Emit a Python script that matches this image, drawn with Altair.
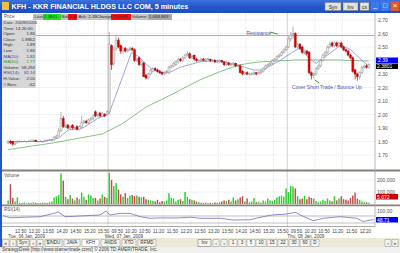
import altair as alt
import pandas as pd

# ------------------------------------------------------------------ data
# 5-minute bars: Tue 06 Jan 12:20-15:55 | Wed 07 Jan 09:30-15:55 | Thu 08 Jan 09:30-12:25
open_d1 = [1.79,1.80,1.80,1.78,1.79,1.80,1.80,1.80,1.80,1.80,1.80,1.81,1.81,1.80,1.80,
           1.80,1.80,1.81,1.81,1.81,1.81,1.83,1.84,1.88,1.97,1.91,1.92,1.90,1.92,1.90,
           1.91,1.89,1.91,1.94,1.95,1.94,1.96,1.97,2.02,1.99,2.01,1.99,2.00,2.00]
high_d1 = [1.81,1.81,1.80,1.80,1.81,1.81,1.80,1.81,1.80,1.81,1.81,1.81,1.81,1.80,1.81,
           1.80,1.81,1.81,1.82,1.81,1.84,1.85,1.90,2.02,1.99,1.93,1.93,1.92,1.93,1.91,
           1.92,1.92,1.99,1.96,1.96,1.97,1.98,2.00,2.03,2.01,2.02,2.02,2.01,2.03]
low_d1 = [1.78,1.78,1.77,1.77,1.79,1.79,1.79,1.80,1.79,1.80,1.80,1.80,1.80,1.79,1.80,
          1.79,1.80,1.80,1.81,1.80,1.81,1.82,1.84,1.87,1.90,1.90,1.89,1.89,1.89,1.89,
          1.88,1.88,1.90,1.93,1.93,1.93,1.95,1.96,1.98,1.98,1.98,1.98,1.98,1.99]
close_d1 = [1.80,1.79,1.78,1.79,1.80,1.80,1.80,1.80,1.80,1.80,1.81,1.81,1.80,1.80,1.80,
            1.80,1.81,1.81,1.81,1.81,1.83,1.84,1.88,1.97,1.91,1.92,1.90,1.91,1.90,1.90,
            1.89,1.91,1.94,1.95,1.94,1.96,1.97,1.99,1.99,2.00,1.99,2.01,1.99,2.02]

open_d2 = [2.02,2.51,2.38,2.49,2.55,2.51,2.47,2.49,2.47,2.48,
           2.49,2.48,2.40,2.42,2.37,2.38,2.29,2.27,2.30,2.32,
           2.34,2.33,2.32,2.31,2.30,2.31,2.31,2.35,2.36,2.37,
           2.39,2.41,2.40,2.42,2.44,2.45,2.42,2.44,2.41,2.40,
           2.40,2.41,2.40,2.41,2.41,2.40,2.40,2.39,2.39,2.40,
           2.39,2.37,2.38,2.37,2.37,2.38,2.36,2.36,2.32,2.30,
           2.31,2.30,2.30,2.30,2.31,2.30,2.31,2.32,2.34,2.36,
           2.37,2.38,2.40,2.41,2.43,2.44,2.46,2.48]
high_d2 = [2.61,2.52,2.50,2.59,2.57,2.52,2.50,2.50,2.49,2.50,
           2.50,2.49,2.42,2.43,2.40,2.39,2.30,2.31,2.34,2.35,
           2.35,2.34,2.33,2.32,2.32,2.33,2.36,2.37,2.39,2.40,
           2.42,2.42,2.43,2.45,2.47,2.46,2.44,2.44,2.42,2.41,
           2.42,2.42,2.42,2.42,2.41,2.41,2.41,2.40,2.41,2.40,
           2.39,2.39,2.39,2.38,2.39,2.38,2.37,2.37,2.33,2.32,
           2.32,2.31,2.31,2.32,2.31,2.32,2.33,2.35,2.37,2.38,
           2.39,2.41,2.42,2.44,2.45,2.47,2.49,2.51]
low_d2 = [2.00,2.33,2.36,2.47,2.49,2.45,2.45,2.46,2.46,2.47,
          2.47,2.39,2.39,2.36,2.36,2.28,2.26,2.26,2.29,2.31,
          2.32,2.31,2.30,2.29,2.29,2.30,2.30,2.34,2.35,2.36,
          2.38,2.39,2.39,2.41,2.43,2.41,2.41,2.40,2.39,2.39,
          2.39,2.40,2.39,2.40,2.39,2.39,2.38,2.38,2.38,2.38,
          2.36,2.36,2.36,2.36,2.36,2.35,2.35,2.31,2.29,2.29,
          2.29,2.29,2.29,2.29,2.29,2.30,2.30,2.31,2.33,2.35,
          2.36,2.37,2.39,2.40,2.42,2.43,2.45,2.47]
close_d2 = [2.52,2.37,2.48,2.55,2.50,2.47,2.49,2.47,2.48,2.49,
            2.48,2.40,2.41,2.37,2.39,2.28,2.27,2.30,2.33,2.34,
            2.33,2.32,2.31,2.30,2.31,2.32,2.35,2.36,2.38,2.39,
            2.41,2.40,2.42,2.44,2.45,2.42,2.43,2.41,2.40,2.40,
            2.41,2.40,2.41,2.41,2.40,2.40,2.39,2.39,2.40,2.39,
            2.37,2.38,2.37,2.37,2.38,2.36,2.36,2.31,2.30,2.31,
            2.30,2.30,2.30,2.31,2.30,2.31,2.32,2.34,2.36,2.37,
            2.38,2.40,2.41,2.43,2.44,2.46,2.48,2.50]

open_d3 = [2.50,2.56,2.59,2.60,2.50,2.52,2.50,2.46,2.47,2.46,
           2.31,2.29,2.30,2.34,2.36,2.40,2.44,2.46,2.50,2.53,
           2.51,2.53,2.51,2.53,2.50,2.48,2.47,2.44,2.42,2.33,
           2.30,2.28,2.31,2.35,2.36,2.35]
high_d3 = [2.58,2.61,2.65,2.61,2.53,2.53,2.51,2.48,2.48,2.47,
           2.32,2.31,2.35,2.37,2.41,2.45,2.47,2.51,2.54,2.54,
           2.54,2.54,2.54,2.54,2.51,2.49,2.48,2.45,2.43,2.34,
           2.31,2.32,2.36,2.37,2.37,2.38]
low_d3 = [2.49,2.54,2.56,2.49,2.49,2.48,2.45,2.45,2.44,2.30,
          2.26,2.27,2.29,2.33,2.35,2.39,2.43,2.45,2.49,2.50,
          2.50,2.50,2.50,2.49,2.47,2.46,2.43,2.41,2.31,2.26,
          2.25,2.26,2.30,2.34,2.34,2.34]
close_d3 = [2.56,2.59,2.60,2.50,2.52,2.49,2.46,2.47,2.45,2.31,
            2.29,2.30,2.34,2.36,2.40,2.44,2.46,2.50,2.52,2.51,
            2.53,2.51,2.53,2.50,2.48,2.47,2.44,2.42,2.32,2.30,
            2.28,2.31,2.35,2.36,2.35,2.37]

# volume in thousands of shares
vol_d1 = [30,165,50,20,55,10,8,12,6,10,8,15,10,6,8,12,10,8,15,20,55,65,75,255,195,
          60,40,75,45,30,55,40,95,60,35,80,70,50,50,30,45,80,60,50]
vol_d2 = [260,200,150,175,120,80,60,90,50,70,75,65,70,60,55,60,40,35,30,25,
          20,35,15,25,20,30,90,50,45,20,35,40,25,100,60,40,35,30,20,15,
          10,8,12,6,10,8,12,10,15,20,30,25,35,20,55,30,40,55,65,20,
          45,15,20,50,15,20,10,30,20,45,30,25,35,55,65,70,60,130]
vol_d3 = [100,150,145,130,65,40,45,70,40,60,50,45,25,15,20,35,25,45,30,20,
          65,30,45,65,40,35,30,50,70,95,45,35,20,15,15,10]

# moving averages and RSI (vertices, x = bar number)
ma10_bar = [0, 15.6, 22, 26.2, 32.5, 38.9, 43.1, 44, 53.7, 56.7, 62.2, 66.5, 70.7, 74.9,
            83.4, 91.9, 99.1, 106.7, 110.9, 117.3, 123.7, 126.6, 132.1, 134.2, 140.6,
            144.8, 149.1, 155.4, 157]
ma10_val = [1.80, 1.80, 1.826, 1.885, 1.90, 1.97, 2.00, 2.01, 2.46, 2.43, 2.34, 2.31,
            2.315, 2.35, 2.39, 2.40, 2.37, 2.33, 2.33, 2.39, 2.46, 2.49, 2.40, 2.38,
            2.46, 2.515, 2.48, 2.38, 2.36]
ma60_bar = [0, 19.8, 41, 49.5, 60.1, 70.7, 83.4, 91.9, 100.3, 108.8, 125.8, 142.7, 157]
ma60_val = [1.74, 1.79, 1.856, 1.93, 2.056, 2.144, 2.256, 2.315, 2.367, 2.389, 2.404,
            2.404, 2.396]
rsi_bar = [0, 2.9, 15.6, 22, 23.2, 26.2, 32.5, 41, 43.6, 45.3, 49.5, 53.7, 58, 62.2,
           66.4, 73.7, 79.2, 83.4, 91.9, 97.4, 104.6, 110.1, 113.9, 119.4, 123.7, 125.8,
           131.3, 135.5, 142.7, 149.9, 152.5, 155.4, 157]
rsi_val = [72, 60, 66, 87, 94, 66, 70, 76, 98, 76, 85, 85, 66, 57, 59, 59, 63, 57, 57,
           47, 49, 66, 76, 80, 91, 76, 43, 57, 66, 57, 38, 47, 48.7]

resistance = [2.585]
price_ticks = [1.70, 1.80, 1.90, 2.00, 2.10, 2.20, 2.30, 2.40, 2.50, 2.60, 2.70]
price_labels = ["1.70", "1.80", "1.90", "2.00", "2.10", "2.20", "2.30", "2.40", "2.50", "2.60", "2.70"]
vol_ticks = [100, 200]
vol_labels = ["100,000", "200,000"]
rsi_levels = [30, 70]
time_tick_bar = [6, 12, 18, 24, 30, 36, 42, 48, 54, 60, 66, 72, 78, 84, 90, 96, 102,
                 108, 114, 120, 126, 132, 138, 144, 150, 156]
time_labels = ["12:50", "13:20", "13:50", "14:20", "14:50", "15:20", "15:50",
               "09:50", "10:20", "10:50", "11:20", "11:50", "12:20", "12:50", "13:20",
               "13:50", "14:20", "14:50", "15:20", "15:50",
               "09:50", "10:20", "10:50", "11:20", "11:50", "12:20"]
date_bar = [0, 42, 121.5]
date_labels = ["Tue, 06 Jan, 2009", "Wed, 07 Jan, 2009", "Thu, 08 Jan, 2009"]
grid_bar = [14, 26, 38, 44, 56, 68, 80, 92, 104, 116, 122, 134, 146]
day_open_bar = [44, 122]
note_text = ["Resistance", "Cover Short Trade / Bounce Up"]
note_bar = [103.7, 123.6]
note_price = [2.604, 2.204]
arrow_bar = [113.9, 133.4]
arrow_bar2 = [117.3, 135.5]
arrow_price = [2.611, 2.256]
arrow_price2 = [2.596, 2.233]

# ------------------------------------------------------------------ frames
opens = open_d1 + open_d2 + open_d3
highs = high_d1 + high_d2 + high_d3
lows = low_d1 + low_d2 + low_d3
closes = close_d1 + close_d2 + close_d3
vols = vol_d1 + vol_d2 + vol_d3
N = len(closes)
bars = pd.DataFrame({"i": list(range(N)), "open": opens, "high": highs, "low": lows,
                     "close": closes, "vol": vols})

FONT = "Liberation Sans"
XS = alt.Scale(domain=[-0.5, N - 0.5], range=[2, 375], nice=False, zero=False)
PY = alt.Scale(domain=[1.70, 2.70], range=[155, 20], nice=False, zero=False)
VY = alt.Scale(domain=[0, 200], range=[204, 180], nice=False, zero=False)
RY = alt.Scale(domain=[0, 100], range=[228.25, 210.75], nice=False, zero=False)
UP = "datum.close >= datum.open"

def X(field):
    return alt.X(field, type="quantitative", scale=XS, axis=None)

# ---- price panel
pgrid = alt.Chart(pd.DataFrame({"p": price_ticks, "t": price_labels}))
price_grid = pgrid.mark_rule(color="#d8d8d8", strokeWidth=0.6, strokeDash=[1, 1]).encode(
    y=alt.Y("p:Q", scale=PY, axis=None), x=alt.value(2), x2=alt.value(375))
price_lab = pgrid.mark_text(align="left", baseline="middle", font=FONT, fontSize=5,
                            color="#505050").encode(
    y=alt.Y("p:Q", scale=PY, axis=None), x=alt.value(378), text="t:N")
vgrid_df = pd.DataFrame({"b": [g - 0.5 for g in grid_bar]})
vgrid = alt.Chart(vgrid_df).mark_rule(color="#d4d4d4", strokeWidth=0.6, strokeDash=[1, 1]).encode(
    x=X("b"), y=alt.value(13), y2=alt.value(226))
dsep = alt.Chart(pd.DataFrame({"b": [g - 0.5 for g in day_open_bar]})).mark_rule(
    color="#c8c8c8", strokeWidth=0.7).encode(x=X("b"), y=alt.value(13), y2=alt.value(226))
res_line = alt.Chart(pd.DataFrame({"p": resistance})).mark_rule(
    color="#d08080", strokeWidth=0.8).encode(
    y=alt.Y("p:Q", scale=PY, axis=None), x=alt.value(2), x2=alt.value(375))
ma60 = alt.Chart(pd.DataFrame({"b": ma60_bar, "v": ma60_val})).mark_line(
    color="#66b266", strokeWidth=0.8).encode(x=X("b"), y=alt.Y("v:Q", scale=PY, axis=None))
ma10 = alt.Chart(pd.DataFrame({"b": ma10_bar, "v": ma10_val})).mark_line(
    color="#8c8cd0", strokeWidth=0.8).encode(x=X("b"), y=alt.Y("v:Q", scale=PY, axis=None))
cb = alt.Chart(bars)
wick = cb.mark_rule(strokeWidth=0.7).encode(
    x=X("i"), y=alt.Y("low:Q", scale=PY, axis=None), y2="high:Q",
    color=alt.condition(UP, alt.value("#909090"), alt.value("#b00000")))
body = cb.mark_bar(size=1.9, strokeWidth=0.5).encode(
    x=X("i"), y=alt.Y("open:Q", scale=PY, axis=None), y2="close:Q",
    fill=alt.condition(UP, alt.value("#f4f4f4"), alt.value("#e00000")),
    stroke=alt.condition(UP, alt.value("#8a8a8a"), alt.value("#a00000")))
notes = alt.Chart(pd.DataFrame({"b": note_bar, "p": note_price, "t": note_text})).mark_text(
    align="left", baseline="middle", font=FONT, fontSize=5, color="#5050a8").encode(
    x=X("b"), y=alt.Y("p:Q", scale=PY, axis=None), text="t:N")
arrows = alt.Chart(pd.DataFrame({"b": arrow_bar, "b2": arrow_bar2, "p": arrow_price,
                                 "p2": arrow_price2})).mark_rule(
    color="#2a8a2a", strokeWidth=0.9).encode(
    x=X("b"), x2="b2:Q", y=alt.Y("p:Q", scale=PY, axis=None), y2="p2:Q")
tdf = pd.DataFrame({"b": [t - 0.5 for t in time_tick_bar], "t": time_labels})
tlab = alt.Chart(tdf).mark_text(align="center", baseline="middle", font=FONT, fontSize=4.6,
                                color="#404040").encode(x=X("b"), y=alt.value(232), text="t:N")
dlab = alt.Chart(pd.DataFrame({"b": date_bar, "t": date_labels})).mark_text(
    align="left", baseline="middle", font=FONT, fontSize=4.6, color="#404040").encode(
    x=X("b"), y=alt.value(237), text="t:N")
price_group = alt.layer(price_grid, vgrid, dsep, res_line, ma60, ma10, wick, body,
                        notes, arrows, price_lab, tlab, dlab)

# ---- volume panel
vg = alt.Chart(pd.DataFrame({"v": vol_ticks, "t": vol_labels}))
vol_grid = vg.mark_rule(color="#d8d8d8", strokeWidth=0.6, strokeDash=[1, 1]).encode(
    y=alt.Y("v:Q", scale=VY, axis=None), x=alt.value(2), x2=alt.value(375))
vol_lab = vg.mark_text(align="left", baseline="middle", font=FONT, fontSize=5,
                       color="#505050").encode(
    y=alt.Y("v:Q", scale=VY, axis=None), x=alt.value(377), text="t:N")
vol_bars = cb.mark_bar(size=1.5).encode(
    x=X("i"), y=alt.Y("vol:Q", scale=VY, axis=None),
    color=alt.condition(UP, alt.value("#33cc33"), alt.value("#c05050")))
vol_group = alt.layer(vol_grid, vol_bars, vol_lab)

# ---- RSI panel
rl = alt.Chart(pd.DataFrame({"r": rsi_levels})).mark_rule(color="#a8a8a8", strokeWidth=0.7).encode(
    y=alt.Y("r:Q", scale=RY, axis=None), x=alt.value(2), x2=alt.value(375))
rsi_line = alt.Chart(pd.DataFrame({"b": rsi_bar, "r": rsi_val})).mark_line(
    color="#7070c0", strokeWidth=0.8).encode(x=X("b"), y=alt.Y("r:Q", scale=RY, axis=None))
rsi_top = alt.Chart(pd.DataFrame({"r": [100], "t": ["100.00"]})).mark_text(
    align="left", baseline="middle", font=FONT, fontSize=5, color="#505050").encode(
    y=alt.Y("r:Q", scale=RY, axis=None), x=alt.value(377), text="t:N")
rsi_group = alt.layer(rl, rsi_line, rsi_top)

# ------------------------------------------------------------------ window chrome
def rects(rows, sw=0.0):
    df = pd.DataFrame(rows, columns=["x", "y", "x2", "y2", "f", "s"])
    return alt.Chart(df).mark_rect(strokeWidth=sw).encode(
        x=alt.X("x:Q", scale=None), x2="x2:Q", y=alt.Y("y:Q", scale=None), y2="y2:Q",
        fill=alt.Fill("f:N", scale=None, legend=None),
        stroke=alt.Stroke("s:N", scale=None, legend=None))

def texts(rows, align="left", weight="normal"):
    df = pd.DataFrame(rows, columns=["t", "x", "y", "s", "c"])
    return alt.Chart(df).mark_text(align=align, baseline="middle", font=FONT,
                                   fontWeight=weight).encode(
        x=alt.X("x:Q", scale=None), y=alt.Y("y:Q", scale=None), text="t:N",
        size=alt.Size("s:Q", scale=None, legend=None),
        color=alt.Color("c:N", scale=None, legend=None))

title_bg = alt.Chart(pd.DataFrame({"a": [0]})).mark_rect(
    fill=alt.LinearGradient(gradient="linear", x1=0, x2=0, y1=0, y2=1,
                            stops=[alt.GradientStop(color="#3b73e0", offset=0),
                                   alt.GradientStop(color="#2556c8", offset=0.5),
                                   alt.GradientStop(color="#1e4fc0", offset=1)])).encode(
    x=alt.value(0), x2=alt.value(400), y=alt.value(0), y2=alt.value(13))

back = rects([
    (0, 13, 2, 253, "#2556c8", "transparent"),
    (2, 238, 400, 247, "#ece9d8", "transparent"),
    (0, 247, 400, 253, "#f0f0f0", "transparent"),
])
front = rects([
    (2, 169.5, 400, 171.5, "#858078", "transparent"),
    (2, 204.5, 400, 206.3, "#858078", "transparent"),
    (2, 226, 375, 227, "#a8a8a8", "transparent"),
    (374.6, 13, 375.4, 227, "#a8a8a8", "transparent"),
    (2, 20, 36, 88, "#d6d6d6", "transparent"),
    (33, 14, 172, 20, "#c4c4c4", "transparent"),
    (43, 14, 61, 20, "#22dd22", "transparent"),
    (68, 14, 77, 20, "#ee1111", "transparent"),
    (111, 14, 131, 20, "#ee1111", "transparent"),
    (148, 14, 172, 20, "#a9a9a9", "transparent"),
    (376, 57.5, 398, 63, "#0000ff", "transparent"),
    (376, 63.5, 398, 69, "#000000", "transparent"),
    (376, 194, 398, 199.5, "#cc0000", "transparent"),
    (376, 217, 398, 222.5, "#0000ff", "transparent"),
    (370.5, 1.5, 379.5, 11, "#3a7af0", "transparent"),
    (380.5, 1.5, 389.5, 11, "#3a7af0", "transparent"),
    (390.5, 1.5, 399.5, 11, "#e2572e", "transparent"),
    (2, 2, 9, 10, "#f0c040", "transparent"),
])
boxes = rects([
    (325, 2.5, 341, 10.5, "#e4e2dc", "#7a7a7a"),
    (343, 2.5, 358, 10.5, "#e4e2dc", "#7a7a7a"),
    (360, 2.5, 369, 10.5, "#e4e2dc", "#7a7a7a"),
    (2.5, 239.5, 9, 246.5, "#f5f4ee", "#909090"),
    (10, 239.5, 16, 246.5, "#f5f4ee", "#909090"),
    (17, 239.5, 29, 246.5, "#f5f4ee", "#606060"),
    (30, 239.5, 36, 246.5, "#f5f4ee", "#909090"),
    (37, 239.5, 43, 246.5, "#f5f4ee", "#909090"),
    (45, 239.5, 62, 246.5, "#f5f4ee", "#909090"),
    (64, 239.5, 80, 246.5, "#f5f4ee", "#909090"),
    (82, 239.5, 99, 246.5, "#ffffff", "#909090"),
    (101, 239.5, 120, 246.5, "#f5f4ee", "#909090"),
    (122, 239.5, 136, 246.5, "#f5f4ee", "#909090"),
    (138, 239.5, 156, 246.5, "#f5f4ee", "#909090"),
    (198, 239.5, 211, 246.5, "#f5f4ee", "#606060"),
    (213, 239.5, 219, 246.5, "#f5f4ee", "#909090"),
    (221, 239.5, 227, 246.5, "#f5f4ee", "#909090"),
    (229, 239.5, 237, 246.5, "#f5f4ee", "#909090"),
    (238, 239.5, 246, 246.5, "#f5f4ee", "#909090"),
    (247, 239.5, 255, 246.5, "#ffffff", "#909090"),
    (256, 239.5, 266, 246.5, "#f5f4ee", "#909090"),
    (267, 239.5, 277, 246.5, "#f5f4ee", "#909090"),
    (278, 239.5, 288, 246.5, "#f5f4ee", "#909090"),
    (289, 239.5, 299, 246.5, "#f5f4ee", "#909090"),
    (300, 239.5, 310, 246.5, "#f5f4ee", "#909090"),
    (311, 239.5, 319, 246.5, "#f5f4ee", "#909090"),
    (385, 239.5, 391, 246.5, "#f5f4ee", "#909090"),
    (392, 239.5, 398, 246.5, "#f5f4ee", "#909090"),
], sw=0.5)

DK = "#303030"
BL = "#3a3ac8"
GR = "#2a9a2a"
left_txt = texts([
    ("Price", 4, 16.5, 4.6, "#505050"),
    ("Last:", 34.5, 17, 4.4, DK), ("2.3801", 44, 17, 4.4, DK),
    ("Bid:", 61.5, 17, 4.2, DK), ("2.38", 68.8, 17, 4.4, DK),
    ("Ask: 2.39", 78.5, 17, 4.4, DK), ("Change:", 96.5, 17, 4.4, DK),
    ("-0.0699", 112.5, 17, 4.4, DK), ("Volume:", 131.5, 17, 4.4, DK),
    ("1,668,863", 149, 17, 4.4, DK),
    ("Date: 2009/01/06", 3.5, 23, 4.4, DK), ("Time: 14:20:00", 3.5, 28.6, 4.4, DK),
    ("Open:", 3.5, 34.2, 4.4, DK), ("Close:", 3.5, 39.8, 4.4, DK),
    ("High:", 3.5, 45.4, 4.4, DK), ("Low:", 3.5, 51, 4.4, DK),
    ("MA(10):", 3.5, 56.6, 4.4, BL), ("MA(60):", 3.5, 62.2, 4.4, GR),
    ("Volume:", 3.5, 67.8, 4.4, DK), ("RSI(14):", 3.5, 73.4, 4.4, BL),
    ("H-Value:", 3.5, 79, 4.4, DK), ("# Bars:", 3.5, 84.6, 4.4, DK),
    ("2.39", 378, 60.3, 5, "#ffffff"), ("2.3801", 377, 66.3, 5, "#ffffff"),
    ("5,072", 377, 196.8, 5, "#ffffff"), ("48.71", 377, 219.8, 5, "#ffffff"),
    ("Volume", 4, 175.5, 4.6, "#505050"), ("RSI(14)", 4, 209.5, 4.6, "#505050"),
    ("StrategyDesk [http://www.tdameritrade.com/] \u00a9 2006 TD AMERITRADE, Inc.",
     2, 250.3, 4.6, "#404040"),
])
right_txt = texts([
    ("1.86", 35, 34.2, 4.4, DK), ("1.8862", 35, 39.8, 4.4, DK),
    ("1.89", 35, 45.4, 4.4, DK), ("1.85", 35, 51, 4.4, DK),
    ("1.82", 35, 56.6, 4.4, BL), ("1.77", 35, 62.2, 4.4, GR),
    ("58,294", 35, 67.8, 4.4, DK), ("82.14", 35, 73.4, 4.4, BL),
    ("2.00", 35, 79, 4.4, DK), ("-62", 35, 84.6, 4.4, DK),
], align="right")
center_txt = texts([
    ("Syn", 333, 6.7, 5, "#202020"), ("Inv", 350.5, 6.7, 5, "#202020"),
    ("cs", 364.5, 6.7, 5, "#202020"),
    ("\u2013", 375, 7.5, 7, "#ffffff"), ("\u25a1", 385, 6.4, 7, "#ffffff"),
    ("\u00d7", 395, 6.4, 8, "#ffffff"),
    ("\u00ab", 5.75, 243, 5, DK), ("\u2039", 13, 243, 5, DK), ("Syn", 23, 243, 4.6, DK),
    ("\u203a", 33, 243, 5, DK), ("\u00bb", 40, 243, 5, DK),
    ("$INDU", 53.5, 243, 4.6, DK), ("JAVA", 72, 243, 4.6, DK), ("KFH", 90.5, 243, 4.6, DK),
    ("ANDS", 110.5, 243, 4.6, DK), ("XTO", 129, 243, 4.6, DK), ("RFMD", 147, 243, 4.6, DK),
    ("Inv", 204.5, 243, 4.6, DK), ("\u2039", 216, 243, 5, DK), ("\u203a", 224, 243, 5, DK),
    ("1", 233, 243, 4.6, DK), ("3", 242, 243, 4.6, DK), ("5", 251, 243, 4.6, DK),
    ("10", 261, 243, 4.6, DK), ("15", 272, 243, 4.6, DK), ("22", 283, 243, 4.6, DK),
    ("30", 294, 243, 4.6, DK), ("60", 305, 243, 4.6, DK), ("D", 315, 243, 4.6, DK),
    ("\u2039", 388, 243, 5, DK), ("\u00bb", 395, 243, 5, DK),
], align="center")
title_txt = texts([("KFH - KKR FINANCIAL HLDGS LLC COM, 5 minutes", 11.5, 6.9, 7.2, "#ffffff")],
                  weight="bold")

chart = alt.layer(
    title_bg, back, price_group, vol_group, rsi_group, front, boxes,
    left_txt, right_txt, center_txt, title_txt,
).resolve_scale(x="independent", y="independent").properties(
    width=400, height=253, autosize=alt.AutoSizeParams(type="none"), padding=0,
    background="#ffffff",
).configure_view(stroke=None)

chart.save("out.html", embed_options={"renderer": "svg", "actions": False})
